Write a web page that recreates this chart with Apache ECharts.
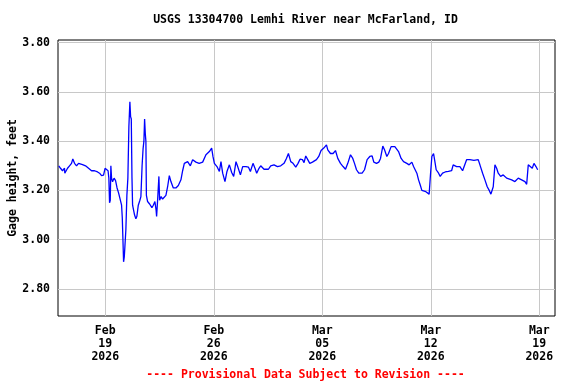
<!DOCTYPE html>
<html>
<head>
<meta charset="utf-8">
<script src="https://cdn.jsdelivr.net/npm/echarts@6/dist/echarts.min.js"></script>
<style>
html,body{margin:0;padding:0;background:#fff;}
#chart{width:576px;height:384px;}
</style>
</head>
<body>
<div id="chart"></div>
<script>
const titleText = 'USGS 13304700 Lemhi River near McFarland, ID';
const footerText = '---- Provisional Data Subject to Revision ----';
const yAxisName = 'Gage height, feet';
const xTickDates = ['2026-02-19', '2026-02-26', '2026-03-05', '2026-03-12', '2026-03-19'];
const yTickValues = [2.8, 3.0, 3.2, 3.4, 3.6, 3.8];
const xRange = ['2026-02-15 22:50', '2026-03-20 00:20'];
const yRange = [2.69, 3.811];
const months = ['Jan','Feb','Mar','Apr','May','Jun','Jul','Aug','Sep','Oct','Nov','Dec'];

const times = [
'02-16 00:00','02-16 02:44','02-16 05:50','02-16 08:56','02-16 09:23','02-16 13:35','02-16 16:41','02-16 19:46','02-16 21:47',
'02-17 00:26','02-17 03:32','02-17 06:37','02-17 08:10','02-17 12:49','02-17 17:28','02-17 22:08',
'02-18 02:45','02-18 07:25','02-18 12:04','02-18 15:10','02-18 18:16','02-18 21:22','02-18 23:41',
'02-19 02:01','02-19 04:20','02-19 05:34','02-19 06:40','02-19 07:45','02-19 08:41','02-19 09:46','02-19 11:18','02-19 13:38','02-19 15:58','02-19 18:17','02-19 20:37','02-19 22:56',
'02-20 01:16','02-20 02:21','02-20 03:35','02-20 04:22','02-20 05:27','02-20 06:23','02-20 07:55','02-20 09:29','02-20 11:01','02-20 12:35','02-20 14:08','02-20 15:13','02-20 16:18','02-20 17:23','02-20 18:19','02-20 19:51','02-20 21:24','02-20 23:25',
'02-21 00:59','02-21 03:09','02-21 05:37','02-21 07:11','02-21 09:02','02-21 10:35','02-21 11:50','02-21 12:55','02-21 14:00','02-21 14:56','02-21 15:42','02-21 17:33','02-21 20:40',
'02-22 00:13','02-22 02:24','02-22 04:52','02-22 06:43','02-22 07:30','02-22 09:03','02-22 11:04','02-22 12:09','02-22 14:28','02-22 16:48','02-22 19:26','02-22 21:55',
'02-23 00:33','02-23 03:11','02-23 05:40','02-23 09:23','02-23 13:25','02-23 17:08','02-23 21:10','02-23 23:48',
'02-24 02:25','02-24 07:33','02-24 11:44','02-24 15:17','02-24 20:24',
'02-25 01:22','02-25 06:48','02-25 11:54','02-25 17:11','02-25 20:44','02-25 22:45',
'02-26 00:56','02-26 04:58','02-26 08:40','02-26 11:10','02-26 13:48','02-26 17:21','02-26 20:27',
'02-27 00:10','02-27 03:45','02-27 06:50','02-27 10:25','02-27 13:02','02-27 17:14','02-27 20:47',
'02-28 01:54','02-28 05:37','02-28 08:43','02-28 12:45','02-28 15:50','02-28 18:29','02-28 22:03',
'03-01 00:40','03-01 05:48','03-01 12:37','03-01 16:10','03-01 21:17',
'03-02 02:34','03-02 07:41','03-02 12:48','03-02 16:31','03-02 19:36','03-02 23:11',
'03-03 02:44','03-03 06:56','03-03 10:29','03-03 13:35','03-03 17:18','03-03 19:48','03-03 22:25',
'03-04 01:31','03-04 04:38','03-04 08:48','03-04 15:00','03-04 18:34','03-04 22:08',
'03-05 02:19','03-05 06:30','03-05 08:31','03-05 12:42','03-05 16:44','03-05 20:27',
'03-06 00:01','03-06 04:12','03-06 08:14','03-06 11:57','03-06 15:30','03-06 19:42','03-06 23:15',
'03-07 01:54','03-07 05:00','03-07 08:34','03-07 13:41','03-07 17:24','03-07 21:26',
'03-08 01:36','03-08 05:11','03-08 07:48','03-08 12:00','03-08 15:33','03-08 18:11','03-08 21:45',
'03-09 00:23','03-09 03:58','03-09 06:35','03-09 10:36','03-09 16:21','03-09 19:26','03-09 22:05',
'03-10 02:07','03-10 05:50','03-10 10:57','03-10 14:31','03-10 18:42','03-10 21:20','03-10 23:49',
'03-11 02:27','03-11 05:05','03-11 07:34','03-11 10:12','03-11 12:50','03-11 16:24','03-11 19:29','03-11 21:30','03-11 23:41',
'03-12 01:42','03-12 04:19','03-12 06:49','03-12 08:22','03-12 12:06','03-12 14:34','03-12 18:17','03-12 22:19',
'03-13 03:16','03-13 08:14','03-13 10:42','03-13 15:59','03-13 21:06',
'03-14 01:16','03-14 03:45','03-14 07:28','03-14 12:35','03-14 18:47',
'03-15 01:26','03-15 04:05','03-15 08:15','03-15 11:50','03-15 15:24','03-15 18:30','03-15 21:08',
'03-16 00:42','03-16 03:20','03-16 05:58','03-16 08:27','03-16 12:10','03-16 16:12','03-16 21:27','03-16 23:57',
'03-17 05:13','03-17 10:19','03-17 15:26','03-17 20:43',
'03-18 01:49','03-18 04:28','03-18 06:56','03-18 09:34','03-18 13:08','03-18 15:46','03-18 18:52','03-18 21:30'
];

const gage = [
3.30,3.29,3.28,3.29,3.27,3.29,3.30,3.31,3.328,
3.31,3.30,3.31,3.315,3.305,3.30,3.29,
3.28,3.28,3.275,3.27,3.26,3.262,3.29,
3.29,3.28,3.25,3.15,3.16,3.30,3.25,3.235,3.25,3.24,3.21,3.19,3.19,
3.14,3.09,2.98,2.91,2.93,2.97,3.04,3.18,3.25,3.46,3.56,3.50,3.49,3.25,3.14,3.12,3.10,3.085,
3.095,3.14,3.16,3.175,3.30,3.37,3.40,3.49,3.43,3.40,3.18,3.155,3.145,
3.13,3.14,3.155,3.12,3.094,3.16,3.257,3.16,3.175,3.165,3.17,3.18,
3.215,3.26,3.236,3.21,3.21,3.22,3.243,3.28,
3.31,3.317,3.30,3.325,3.315,
3.31,3.315,3.345,3.358,3.372,3.338,
3.31,3.297,3.277,3.317,3.27,3.236,3.277,
3.304,3.273,3.257,3.317,3.297,3.263,3.297,
3.297,3.295,3.277,3.31,3.29,3.27,3.29,
3.30,3.286,3.286,3.30,3.304,
3.297,3.30,3.31,3.33,3.35,3.317,
3.31,3.295,3.31,3.327,3.325,3.313,3.34,
3.325,3.31,3.315,3.325,3.338,3.362,
3.372,3.385,3.365,3.35,3.35,3.362,
3.33,3.31,3.297,3.286,3.31,3.345,3.33,
3.31,3.284,3.27,3.27,3.284,3.325,
3.338,3.34,3.315,3.31,3.315,3.33,3.38,
3.365,3.338,3.35,3.378,3.378,3.375,3.358,
3.33,3.317,3.31,3.304,3.315,3.297,3.304,
3.27,3.243,3.223,3.20,3.195,3.195,3.195,3.185,3.27,
3.338,3.35,3.31,3.284,3.27,3.257,3.27,3.275,
3.277,3.28,3.304,3.297,3.297,
3.28,3.277,3.325,3.325,3.322,
3.325,3.304,3.27,3.243,3.215,3.20,3.185,
3.215,3.304,3.29,3.27,3.257,3.263,3.25,3.257,
3.243,3.236,3.25,3.243,
3.236,3.225,3.304,3.31,3.29,3.31,3.297,3.284
];

function parseLocal(s) {
  const m = s.match(/(\d+)-(\d+)-(\d+)(?:\s+(\d+):(\d+))?/);
  return new Date(+m[1], +m[2] - 1, +m[3], m[4] ? +m[4] : 0, m[5] ? +m[5] : 0).getTime();
}

const seriesData = times.map((t, i) => [parseLocal('2026-' + t), gage[i]]);
const xTicks = xTickDates.map(parseLocal);

const FONT = 'DejaVu Sans Mono';
const chart = echarts.init(document.getElementById('chart'), null, {renderer: 'canvas'});
chart.setOption({
  animation: false,
  backgroundColor: '#ffffff',
  grid: {left: 58, right: 21, top: 40, bottom: 68, show: true, borderColor: '#000', borderWidth: 1, backgroundColor: 'transparent', containLabel: false, outerBoundsMode: 'none'},
  xAxis: {
    type: 'value',
    min: parseLocal(xRange[0]),
    max: parseLocal(xRange[1]),
    axisLine: {show: false},
    axisTick: {show: false, customValues: xTicks},
    splitLine: {show: true, lineStyle: {color: '#c8c8c8', width: 1}},
    axisLabel: {
      customValues: xTicks,
      margin: 9,
      color: '#000',
      fontFamily: FONT,
      fontWeight: 'bold',
      fontSize: 11.5,
      lineHeight: 13,
      formatter: function (v) {
        const d = new Date(v);
        const dd = String(d.getDate()).padStart(2, '0');
        return months[d.getMonth()] + '\n' + dd + '\n' + d.getFullYear();
      }
    }
  },
  yAxis: {
    type: 'value',
    min: yRange[0],
    max: yRange[1],
    name: yAxisName,
    nameLocation: 'middle',
    nameRotate: 90,
    nameGap: 39,
    nameMoveOverlap: false,
    nameTextStyle: {color: '#000', fontFamily: FONT, fontWeight: 'bold', fontSize: 11.5},
    axisLine: {show: false},
    axisTick: {show: false, customValues: yTickValues},
    splitLine: {show: true, lineStyle: {color: '#c8c8c8', width: 1}},
    axisLabel: {
      customValues: yTickValues,
      margin: 8,
      color: '#000',
      fontFamily: FONT,
      fontWeight: 'bold',
      fontSize: 11.5,
      formatter: function (v) { return v.toFixed(2); }
    }
  },
  series: [{
    type: 'line',
    data: seriesData,
    showSymbol: false,
    symbol: 'none',
    lineStyle: {color: '#0000ff', width: 1.3},
    silent: true
  }],
  graphic: [
    {type: 'text', x: 305.5, y: 20, style: {text: titleText, fill: '#000', font: 'bold 11.5px "' + FONT + '"', textAlign: 'center', textVerticalAlign: 'middle'}},
    {type: 'text', x: 305.5, y: 375, style: {text: footerText, fill: '#ff0000', font: 'bold 11.5px "' + FONT + '"', textAlign: 'center', textVerticalAlign: 'middle'}}
  ]
});
</script>
</body>
</html>
